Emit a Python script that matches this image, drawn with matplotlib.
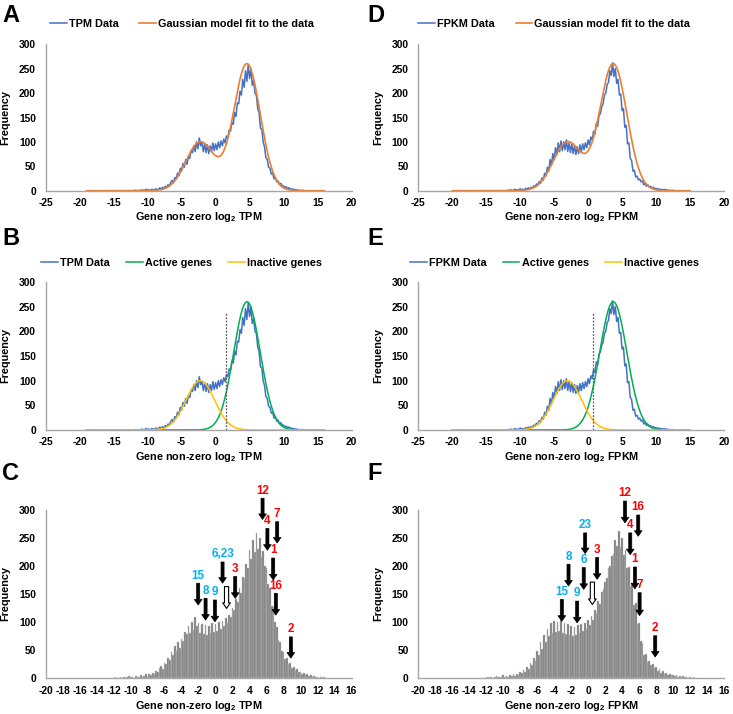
import numpy as np
import matplotlib
matplotlib.use("Agg")
import matplotlib.pyplot as plt
import matplotlib.font_manager as fm

# avoid condensed (Narrow) variants being picked for the Arial-like family
fm.fontManager.ttflist = [f for f in fm.fontManager.ttflist if 'narrow' not in f.fname.lower()]
try:
    fm.FontManager._findfont_cached.cache_clear()
except Exception:
    pass

plt.rcParams['font.family'] = ['Liberation Sans', 'DejaVu Sans']
plt.rcParams['font.weight'] = 'bold'
plt.rcParams['mathtext.fontset'] = 'custom'
plt.rcParams['mathtext.rm'] = 'Liberation Sans:bold'
plt.rcParams['mathtext.default'] = 'rm'
plt.rcParams['axes.unicode_minus'] = False

# ---------------- data ----------------
bin_start = -12.0
bin_width = 0.2

tpm_freq = [0, 1, 0, 0, 1, 0, 2, 0, 1, 3, 1, 2, 0, 3, 2, 1, 4, 2, 3, 6,
            2, 7, 4, 9, 6, 12, 10, 17, 21, 16,
            27, 24, 36, 31, 46, 40, 56, 48, 64, 54,
            70, 66, 82, 78, 92, 80, 100, 86, 108, 92,
            98, 80, 96, 78, 94, 76, 92, 80, 98, 82,
            96, 84, 100, 88, 102, 92, 106, 98, 112, 108,
            124, 122, 140, 136, 160, 152, 180, 178, 204, 196,
            228, 212, 246, 224, 258, 230, 250, 216, 226, 200,
            196, 168, 160, 128, 126, 100, 90, 68, 64, 48,
            46, 34, 36, 24, 27, 18, 20, 13, 15, 10,
            10, 6, 8, 4, 6, 3, 4, 2, 3, 1,
            2, 0, 1, 0, 1, 0]

fpkm_freq = [0, 1, 0, 2, 0, 1, 3, 1, 2, 1, 4, 2, 3, 1, 5, 3, 6, 3, 7, 5,
             10, 8, 14, 11, 19, 15, 26, 22, 36, 30,
             48, 40, 64, 52, 76, 64, 88, 74, 98, 80,
             102, 82, 100, 84, 104, 80, 98, 78, 96, 76,
             92, 74, 90, 76, 94, 80, 96, 84, 98, 88,
             104, 94, 110, 104, 122, 116, 138, 132, 154, 158,
             172, 178, 196, 200, 218, 222, 246, 236, 262, 234,
             250, 220, 228, 196, 198, 164, 168, 130, 134, 96,
             98, 66, 62, 40, 42, 28, 30, 22, 24, 18,
             20, 12, 15, 9, 12, 7, 9, 5, 7, 4,
             5, 3, 4, 2, 3, 1, 3, 1, 2, 0,
             1, 0, 1, 0, 0, 0]

# Gaussian model components: (amplitude, mean, sd)
tpm_active = (260, 4.62, 1.95)
tpm_inactive = (100, -2.26, 2.1)
fpkm_active = (260, 3.7, 2.0)
fpkm_inactive = (100, -3.05, 2.1)
tpm_model_range = (-19, 16)
fpkm_model_range = (-20, 15)
tpm_threshold = 1.5
fpkm_threshold = 0.7
threshold_height = 237

# Arrow annotations on histograms: label, colour, x, arrow top, arrow tip
c_labels = ['15', '8', '9', '6,23', '', '3', '12', '4', '7', '1', '16', '2']
c_colors = ['blue', 'blue', 'blue', 'blue', 'hollow', 'red', 'red', 'red', 'red', 'red', 'red', 'red']
c_x = [-2.05, -1.18, -0.08, 0.82, 1.29, 2.31, 5.53, 6.10, 7.25, 6.78, 7.09, 8.86]
c_top = [169, 142, 139, 207, 163, 181, 321, 267, 279, 214, 151, 73]
c_tip = [130, 103, 100, 169, 124, 142, 283, 228, 241, 175, 112, 35]

f_labels = ['15', '9', '8', '6', '23', '', '3', '12', '16', '4', '1', '7', '2']
f_colors = ['blue', 'blue', 'blue', 'blue', 'blue', 'hollow', 'red', 'red', 'red', 'red', 'red', 'red', 'red']
f_x = [-3.10, -1.29, -2.31, -0.52, -0.35, 0.50, 1.06, 4.34, 5.90, 4.96, 5.51, 6.06, 7.90]
f_top = [140, 137, 203, 197, 259, 171, 215, 316, 291, 259, 198, 152, 75]
f_tip = [101, 98, 164, 158, 222, 131, 176, 277, 253, 220, 159, 111, 37]

# ---------------- style ----------------
BLUE = '#4472C4'
ORANGE = '#ED7D31'
GREEN = '#00B050'
YELLOW = '#FFC000'
AXC = '#A6A6A6'
LBLUE = '#00B0F0'
RED = '#FF0000'
TS = 7.4
LS = 7.8

W, H = 733, 714
fig = plt.figure(figsize=(W / 100, H / 100), dpi=100)


def fax(l, r, b, t):
    return fig.add_axes([l / W, 1 - b / H, (r - l) / W, (b - t) / H])


def gauss(x, p):
    a, m, s = p
    return a * np.exp(-(x - m) ** 2 / (2 * s ** 2))


def style(ax, xlim, xticks, xlabel, xpad):
    ax.set_xlim(*xlim)
    ax.set_ylim(0, 300)
    ax.set_xticks(xticks)
    ax.set_yticks(range(0, 301, 50))
    for s in ['top', 'right']:
        ax.spines[s].set_visible(False)
    for s in ['left', 'bottom']:
        ax.spines[s].set_color(AXC)
        ax.spines[s].set_linewidth(1.0)
    ax.tick_params(length=0, labelsize=TS)
    ax.tick_params(axis='x', pad=xpad)
    ax.tick_params(axis='y', pad=7)
    ax.set_xlabel(xlabel, fontsize=LS, fontweight='bold', labelpad=2)
    ax.set_ylabel('Frequency', fontsize=LS, fontweight='bold')
    ax.yaxis.set_label_coords(-0.115, 0.5)


def legend(ax, x, y, colspace):
    ax.legend(loc='center', bbox_to_anchor=(x, y), ncol=3, frameon=False,
              fontsize=LS, handlelength=1.55, handletextpad=0.2,
              columnspacing=colspace, borderaxespad=0)


centers = bin_start + bin_width * np.arange(len(tpm_freq))

panels = [
    ('TPM', tpm_freq, tpm_active, tpm_inactive, tpm_model_range, tpm_threshold,
     45.7, 351.5, c_labels, c_colors, c_x, c_top, c_tip, ('A', 'B', 'C'), 2),
    ('FPKM', fpkm_freq, fpkm_active, fpkm_inactive, fpkm_model_range, fpkm_threshold,
     418.3, 724.0, f_labels, f_colors, f_x, f_top, f_tip, ('D', 'E', 'F'), 367),
]

for (unit, freq, act, inact, mr, thr, L, R, labs, cols, ax_x, tops, tips, letters, lx) in panels:
    xl = 'Gene non-zero log$_2$ ' + unit
    xm = np.linspace(mr[0], mr[1], 800)

    # top panel: data + combined Gaussian
    a1 = fax(L, R, 190.7, 44.3)
    a1.plot(centers, freq, color=BLUE, lw=1.1, label=unit + ' Data')
    a1.plot(xm, gauss(xm, act) + gauss(xm, inact), color=ORANGE, lw=1.2,
            label='Gaussian model fit to the data')
    style(a1, (-25, 20), range(-25, 21, 5), xl, 5)
    legend(a1, 0.445, 1.139, 1.9)

    # middle panel: components
    a2 = fax(L, R, 430, 282)
    a2.plot(centers, freq, color=BLUE, lw=1.1, label=unit + ' Data')
    a2.plot(xm, gauss(xm, act), color=GREEN, lw=1.1, label='Active genes')
    a2.plot(xm, gauss(xm, inact), color=YELLOW, lw=1.1, label='Inactive genes')
    a2.plot([thr, thr], [0, threshold_height], color='#595959', lw=0.9,
            ls=(0, (1.5, 1.2)))
    style(a2, (-25, 20), range(-25, 21, 5), xl, 5)
    legend(a2, 0.445, 1.128, 1.5)

    # bottom panel: histogram with arrows
    a3 = fax(L, R, 677.7, 510)
    a3.bar(centers, freq, width=bin_width, color='#7a7a7a', edgecolor='#c4c4c4',
           linewidth=0.3)
    style(a3, (-20, 16), range(-20, 17, 2), xl, 6)
    for lab, col, x, t, tp in zip(labs, cols, ax_x, tops, tips):
        if col == 'hollow':
            a3.annotate('', xy=(x, tp), xytext=(x, t), annotation_clip=False,
                        arrowprops=dict(arrowstyle='simple,head_length=0.4,head_width=0.55,tail_width=0.3',
                                        fc='white', ec='black', lw=0.8,
                                        shrinkA=0, shrinkB=0, mutation_scale=10))
        else:
            a3.annotate('', xy=(x, tp), xytext=(x, t), annotation_clip=False,
                        arrowprops=dict(arrowstyle='simple,head_length=0.4,head_width=0.55,tail_width=0.22',
                                        fc='black', ec='black', lw=0.5,
                                        shrinkA=0, shrinkB=0, mutation_scale=10))
            a3.annotate(lab, xy=(x, t), xytext=(0, 5.5), textcoords='offset points',
                        annotation_clip=False,
                        ha='center', va='center', fontsize=8.4, fontweight='bold',
                        color=LBLUE if col == 'blue' else RED)

    for letter, ytop in zip(letters, (4, 227, 462)):
        fig.text(lx / W, 1 - ytop / H, letter, fontsize=17, fontweight='bold',
                 ha='left', va='top')

fig.savefig('out.png', dpi=100)
